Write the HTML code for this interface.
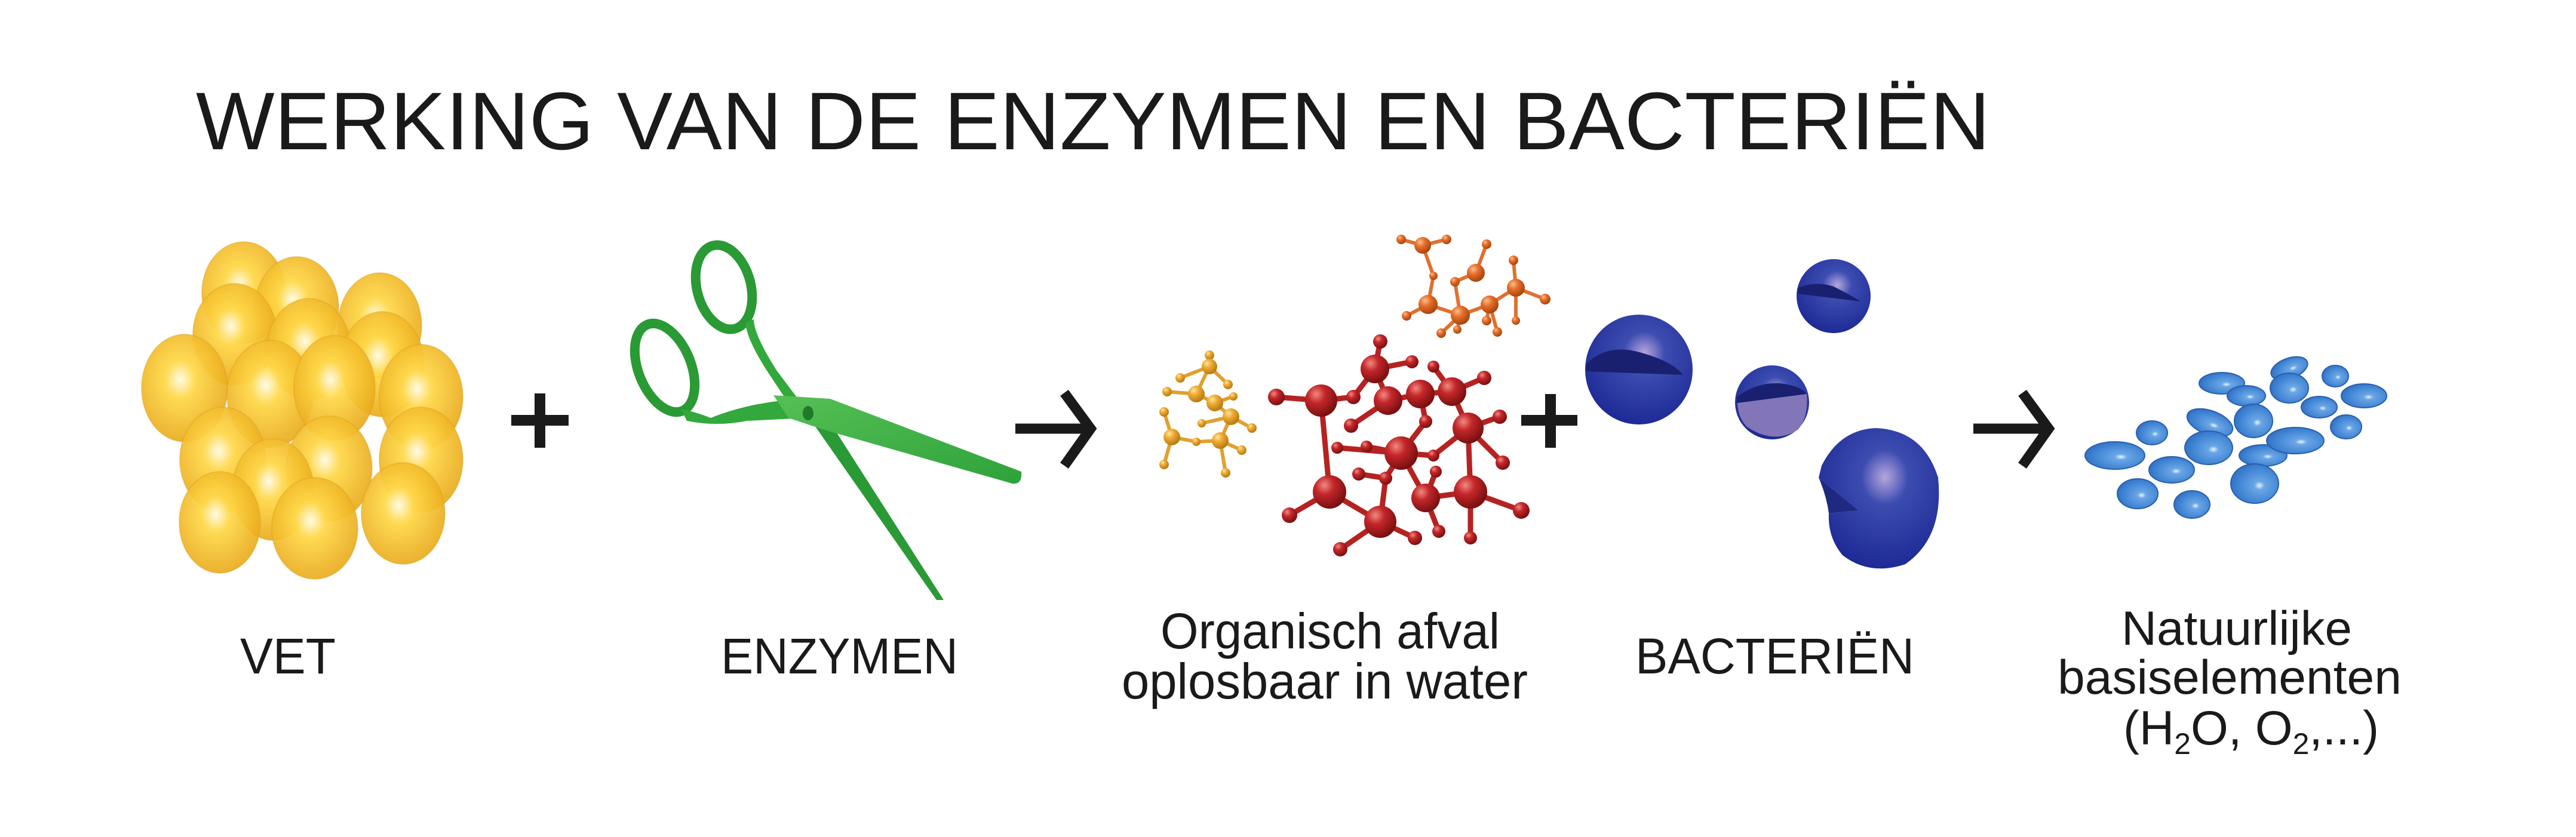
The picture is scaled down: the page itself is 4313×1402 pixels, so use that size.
<!DOCTYPE html>
<html><head><meta charset="utf-8"><style>html,body{margin:0;padding:0;background:#fff}svg{display:block}</style></head>
<body>
<svg width="4313" height="1402" viewBox="0 0 4313 1402" xmlns="http://www.w3.org/2000/svg" font-family="'Liberation Sans', sans-serif">
<defs>
<radialGradient id="fat" cx="0.45" cy="0.42" r="0.6"><stop offset="0" stop-color="#fffbe6"/><stop offset="0.3" stop-color="#ffd84a" stop-opacity="0.95"/><stop offset="1" stop-color="#e8a817" stop-opacity="0.9"/></radialGradient>
<radialGradient id="red" cx="0.35" cy="0.3" r="0.7"><stop offset="0" stop-color="#f08a80"/><stop offset="0.4" stop-color="#c4262a"/><stop offset="1" stop-color="#7a1010"/></radialGradient>
<radialGradient id="org" cx="0.35" cy="0.3" r="0.7"><stop offset="0" stop-color="#ffc090"/><stop offset="0.4" stop-color="#e8702c"/><stop offset="1" stop-color="#a84510"/></radialGradient>
<radialGradient id="yel" cx="0.35" cy="0.3" r="0.7"><stop offset="0" stop-color="#ffe8a0"/><stop offset="0.4" stop-color="#efab32"/><stop offset="1" stop-color="#b87a10"/></radialGradient>
<radialGradient id="bac" cx="0.55" cy="0.35" r="0.65"><stop offset="0" stop-color="#b7a6de"/><stop offset="0.3" stop-color="#3c4cb0"/><stop offset="1" stop-color="#1e2a96"/></radialGradient>
<radialGradient id="drop" cx="0.6" cy="0.55" r="0.7"><stop offset="0" stop-color="#e8f4ff"/><stop offset="0.15" stop-color="#6aa6e6"/><stop offset="0.7" stop-color="#3a7fd0"/><stop offset="1" stop-color="#2b66b8"/></radialGradient>
<linearGradient id="g1" x1="0" y1="0" x2="1" y2="1"><stop offset="0" stop-color="#55c055"/><stop offset="1" stop-color="#2ea23a"/></linearGradient>
</defs>

<text x="328" y="250" font-size="137" fill="#1a1a1a" textLength="3004" lengthAdjust="spacingAndGlyphs">WERKING VAN DE ENZYMEN EN BACTERIËN</text>

<!-- fat -->
<g fill="url(#fat)" stroke="#d99a20" stroke-opacity="0.35" stroke-width="2">
<ellipse cx="408" cy="490" rx="70" ry="85"/><ellipse cx="497" cy="515" rx="70" ry="85"/><ellipse cx="636" cy="545" rx="70" ry="88"/>
<ellipse cx="393" cy="560" rx="70" ry="85"/><ellipse cx="517" cy="585" rx="70" ry="85"/><ellipse cx="309" cy="650" rx="72" ry="90"/>
<ellipse cx="640" cy="610" rx="70" ry="88"/><ellipse cx="705" cy="665" rx="70" ry="88"/><ellipse cx="452" cy="660" rx="72" ry="90"/>
<ellipse cx="560" cy="650" rx="68" ry="88"/><ellipse cx="373" cy="770" rx="72" ry="88"/><ellipse cx="705" cy="770" rx="70" ry="88"/>
<ellipse cx="551" cy="785" rx="72" ry="88"/><ellipse cx="457" cy="820" rx="68" ry="85"/><ellipse cx="368" cy="875" rx="68" ry="85"/>
<ellipse cx="675" cy="860" rx="70" ry="85"/><ellipse cx="527" cy="885" rx="72" ry="85"/>
</g>

<!-- plus 1 -->
<g fill="#1a1a1a"><rect x="856" y="695" width="96" height="18"/><rect x="895" y="659" width="18" height="91"/></g>

<!-- scissors -->
<g>
<path d="M1355 700 L1385 700 L1580 1005 L1568 1005 Z" fill="#2a9a35"/>
<ellipse cx="1212" cy="481" rx="45" ry="72" transform="rotate(-15 1212 481)" fill="none" stroke="#2a9a35" stroke-width="16"/>
<ellipse cx="1113" cy="616" rx="44" ry="78" transform="rotate(-22 1113 616)" fill="none" stroke="#2a9a35" stroke-width="16"/>
<path d="M1262 535 Q1262 560 1300 620 L1360 700 L1340 705 L1290 630 Q1250 570 1248 540 Z" fill="#33a83c"/>
<path d="M1140 685 Q1165 690 1190 700 Q1240 680 1300 672 L1355 672 L1350 700 L1250 705 Q1200 715 1150 705 Z" fill="#33a83c"/>
<path d="M1295 662 L1390 668 L1710 790 Q1712 812 1695 810 L1380 720 L1320 700 Z" fill="url(#g1)"/>
<ellipse cx="1353" cy="692" rx="9" ry="12" fill="#1e7a28"/>
</g>

<!-- arrows -->
<g stroke="#1a1a1a" stroke-width="17" fill="none"><path d="M1700 718 L1818 718"/><path d="M1782 658 L1826 718 L1782 780"/></g>
<g stroke="#1a1a1a" stroke-width="17" fill="none"><path d="M3304 718 L3422 718"/><path d="M3386 658 L3430 718 L3386 780"/></g>

<!-- yellow molecule -->
<g stroke="#e0a030" stroke-width="6" fill="none">
<path d="M2025 595 L2025 614 L1976 633 M2025 614 L2056 644 M2025 614 L2003 660 L1954 656 M2003 660 L2034 675 L2065 664 M2034 675 L2061 698 L2096 717 M2061 698 L2012 709 M2061 698 L2043 738 L2079 754 M2043 738 L2052 792 M2043 738 L2003 740 L1962 732 L1949 690 M1962 732 L1949 778"/>
</g>
<g fill="url(#yel)">
<circle cx="2025" cy="595" r="8"/><circle cx="2025" cy="614" r="13"/><circle cx="1976" cy="633" r="8"/><circle cx="2056" cy="644" r="8"/><circle cx="2003" cy="660" r="14"/><circle cx="1954" cy="656" r="8"/><circle cx="2034" cy="675" r="14"/><circle cx="2065" cy="664" r="7"/><circle cx="2061" cy="698" r="14"/><circle cx="2012" cy="709" r="7"/><circle cx="1949" cy="690" r="8"/><circle cx="2096" cy="717" r="8"/><circle cx="1962" cy="732" r="14"/><circle cx="2043" cy="738" r="14"/><circle cx="2079" cy="754" r="8"/><circle cx="1949" cy="778" r="8"/><circle cx="2052" cy="792" r="8"/><circle cx="2003" cy="740" r="7"/>
</g>

<!-- orange molecule -->
<g stroke="#e07030" stroke-width="6" fill="none">
<path d="M2346 401 L2382 411 L2422 401 M2382 411 L2400 462 L2391 510 M2489 409 L2471 457 L2436 472 L2445 528 M2534 436 L2538 482 L2587 501 M2538 482 L2494 510 L2489 537 M2538 482 L2538 537 M2391 510 L2355 529 M2391 510 L2445 528 L2494 510 M2445 528 L2413 558 M2445 528 L2440 552 M2494 510 L2507 556"/>
</g>
<g fill="url(#org)">
<circle cx="2382" cy="411" r="14"/><circle cx="2346" cy="401" r="8"/><circle cx="2422" cy="401" r="8"/><circle cx="2489" cy="409" r="8"/><circle cx="2400" cy="462" r="7"/><circle cx="2471" cy="457" r="15"/><circle cx="2534" cy="436" r="8"/><circle cx="2436" cy="472" r="8"/><circle cx="2538" cy="482" r="15"/><circle cx="2587" cy="501" r="9"/><circle cx="2391" cy="510" r="16"/><circle cx="2445" cy="528" r="16"/><circle cx="2494" cy="510" r="15"/><circle cx="2355" cy="529" r="8"/><circle cx="2489" cy="537" r="8"/><circle cx="2538" cy="537" r="7"/><circle cx="2413" cy="558" r="8"/><circle cx="2440" cy="552" r="7"/><circle cx="2507" cy="556" r="8"/>
</g>

<!-- red molecule -->
<g stroke="#b52222" stroke-width="9" fill="none">
<path d="M2311 572 L2302 618 L2364 606 M2302 618 L2266 665 M2137 665 L2212 671 L2266 665 M2212 671 L2226 824 M2324 671 L2262 713 M2324 671 L2378 660 L2431 656 L2485 633 M2431 656 L2400 614 M2431 656 L2458 717 L2511 698 M2378 660 L2387 706 L2346 759 M2458 717 L2516 775 M2458 717 L2462 824 M2346 759 L2239 750 M2346 759 L2288 748 M2346 759 L2400 763 L2458 717 M2346 759 L2320 801 L2275 794 M2346 759 L2387 834 M2226 824 L2159 863 M2226 824 L2311 874 L2244 920 M2311 874 L2369 901 M2311 874 L2320 801 M2387 834 L2462 824 L2547 855 M2462 824 L2462 901 M2387 834 L2409 890 M2404 790 L2387 834 M2302 618 L2324 671"/>
</g>
<g fill="url(#red)">
<circle cx="2302" cy="618" r="24"/><circle cx="2311" cy="572" r="12"/><circle cx="2364" cy="606" r="11"/><circle cx="2137" cy="665" r="14"/><circle cx="2212" cy="671" r="27"/><circle cx="2266" cy="665" r="12"/><circle cx="2324" cy="671" r="24"/><circle cx="2378" cy="660" r="24"/><circle cx="2431" cy="656" r="24"/><circle cx="2485" cy="633" r="12"/><circle cx="2400" cy="614" r="10"/><circle cx="2262" cy="713" r="12"/><circle cx="2458" cy="717" r="26"/><circle cx="2511" cy="698" r="12"/><circle cx="2387" cy="706" r="11"/><circle cx="2346" cy="759" r="28"/><circle cx="2239" cy="750" r="10"/><circle cx="2288" cy="748" r="10"/><circle cx="2400" cy="763" r="10"/><circle cx="2516" cy="775" r="12"/><circle cx="2226" cy="824" r="28"/><circle cx="2275" cy="794" r="11"/><circle cx="2320" cy="801" r="11"/><circle cx="2387" cy="834" r="24"/><circle cx="2462" cy="824" r="28"/><circle cx="2404" cy="790" r="10"/><circle cx="2159" cy="863" r="13"/><circle cx="2311" cy="874" r="27"/><circle cx="2547" cy="855" r="14"/><circle cx="2369" cy="901" r="12"/><circle cx="2462" cy="901" r="11"/><circle cx="2409" cy="890" r="11"/><circle cx="2244" cy="920" r="12"/>
</g>

<!-- plus 2 -->
<g fill="#1a1a1a"><rect x="2547" y="695" width="94" height="18"/><rect x="2587" y="660" width="18" height="90"/></g>

<!-- bacteria -->
<ellipse cx="2744" cy="619" rx="90" ry="92" fill="url(#bac)"/>
<path d="M2656 610 Q2690 575 2745 590 Q2800 605 2818 628 L2655 622 Z" fill="#1a2070"/>
<ellipse cx="3070" cy="496" rx="62" ry="62" fill="url(#bac)"/>
<path d="M3010 482 Q3040 470 3070 480 Q3100 495 3115 505 L3009 492 Z" fill="#1a2070"/>
<ellipse cx="2967" cy="674" rx="62" ry="62" fill="url(#bac)"/>
<path d="M2908 665 Q2940 640 2980 642 Q3015 646 3025 660 L2908 675 Z" fill="#1a2070"/>
<path d="M2909 675 L3025 660 Q3028 700 3010 720 Q2970 745 2925 715 Q2910 700 2909 675 Z" fill="#8276b8"/>
<path d="M3050 780 Q3080 720 3140 717 Q3220 720 3245 800 Q3255 900 3190 945 Q3130 965 3085 930 Q3060 900 3062 860 L3112 855 L3045 800 Z" fill="url(#bac)"/>
<path d="M3045 800 L3112 855 L3062 860 Q3058 830 3045 800 Z" fill="#1e2a80"/>

<!-- droplets -->
<g fill="url(#drop)" stroke="#2a5fae" stroke-width="2">
<ellipse cx="3541" cy="763" rx="50" ry="23"/><ellipse cx="3603" cy="725" rx="26" ry="20"/><ellipse cx="3636" cy="787" rx="38" ry="22"/><ellipse cx="3579" cy="827" rx="34" ry="25"/><ellipse cx="3670" cy="845" rx="30" ry="23"/><ellipse cx="3700" cy="708" rx="40" ry="20" transform="rotate(20 3700 708)"/><ellipse cx="3698" cy="750" rx="40" ry="28"/><ellipse cx="3720" cy="642" rx="38" ry="18"/><ellipse cx="3761" cy="663" rx="32" ry="17"/><ellipse cx="3773" cy="705" rx="32" ry="28"/><ellipse cx="3789" cy="763" rx="40" ry="18"/><ellipse cx="3775" cy="810" rx="40" ry="33"/><ellipse cx="3833" cy="617" rx="32" ry="17" transform="rotate(-20 3833 617)"/><ellipse cx="3833" cy="650" rx="32" ry="25"/><ellipse cx="3843" cy="738" rx="48" ry="22"/><ellipse cx="3883" cy="682" rx="30" ry="18"/><ellipse cx="3910" cy="630" rx="22" ry="18"/><ellipse cx="3958" cy="663" rx="38" ry="20"/><ellipse cx="3928" cy="715" rx="26" ry="20"/>
</g>

<!-- labels -->
<g fill="#1a1a1a">
<text x="402" y="1128" font-size="84" textLength="160" lengthAdjust="spacingAndGlyphs">VET</text>
<text x="1207" y="1128" font-size="84" textLength="397" lengthAdjust="spacingAndGlyphs">ENZYMEN</text>
<text x="1943" y="1086" font-size="84" textLength="568" lengthAdjust="spacingAndGlyphs">Organisch afval</text>
<text x="1878" y="1170" font-size="84" textLength="680" lengthAdjust="spacingAndGlyphs">oplosbaar in water</text>
<text x="2738" y="1128" font-size="84" textLength="467" lengthAdjust="spacingAndGlyphs">BACTERIËN</text>
<text x="3552" y="1080" font-size="81" textLength="386" lengthAdjust="spacingAndGlyphs">Natuurlijke</text>
<text x="3445" y="1162" font-size="81" textLength="576" lengthAdjust="spacingAndGlyphs">basiselementen</text>
<text x="3555" y="1247" font-size="81" textLength="428" lengthAdjust="spacingAndGlyphs">(H<tspan font-size="50" dy="16">2</tspan><tspan dy="-16">O, O</tspan><tspan font-size="50" dy="16">2</tspan><tspan dy="-16">,...)</tspan></text>
</g>
</svg>
</body></html>
